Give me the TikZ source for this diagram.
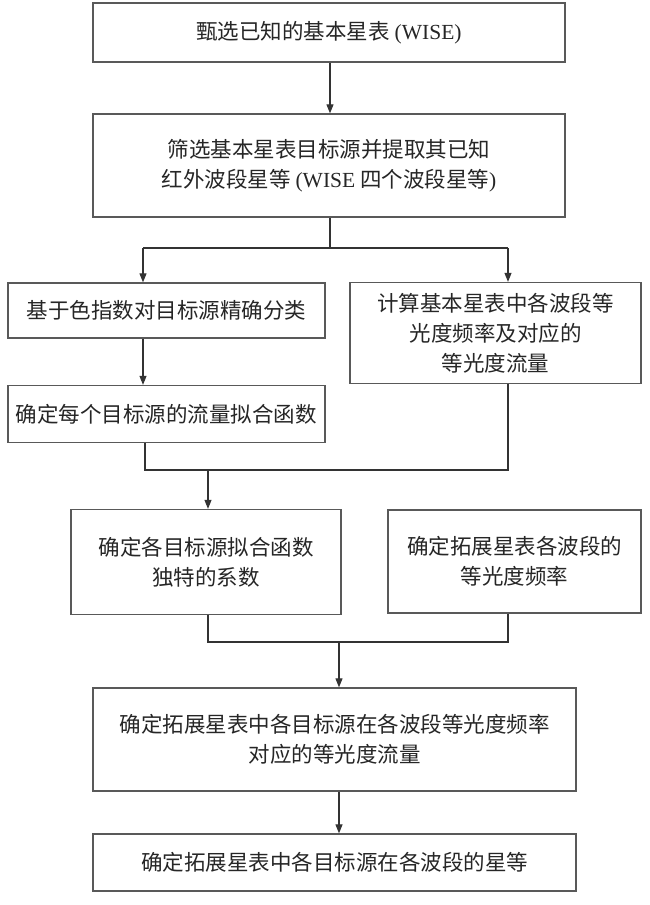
\documentclass[tikz,border=0pt]{standalone}
\usepackage{fontspec}
\setmainfont{Liberation Serif}
\newfontfamily\cjk{Noto Sans CJK SC}
\usetikzlibrary{arrows.meta}
\tikzset{
  box/.style={draw=black!65, line width=1.3pt, fill=white, align=center, inner sep=0pt,
    font=\fontsize{21.5}{30}\selectfont\cjk, text=black!85},
  link/.style={draw=black!80, line width=1.1pt},
  arr/.style={link, -{Triangle[length=9pt,width=7pt]}}
}
\begin{document}
\begin{tikzpicture}[x=1pt,y=-1pt]
\useasboundingbox (0,0) rectangle (650,905);
\node[box, minimum width=472pt, minimum height=59pt] (b1) at (329,32.5) {甄选已知的基本星表 {\rmfamily (WISE)}};
\node[box, minimum width=472pt, minimum height=103pt] (b2) at (329,165.5) {筛选基本星表目标源并提取其已知\\红外波段星等 {\rmfamily (WISE} 四个波段星等{\rmfamily )}};
\node[box, minimum width=317pt, minimum height=55pt] (b3) at (166.5,310.5) {基于色指数对目标源精确分类};
\node[box, minimum width=291pt, minimum height=101pt] (b4) at (495.5,333) {计算基本星表中各波段等\\光度频率及对应的\\等光度流量};
\node[box, minimum width=317pt, minimum height=57pt] (b5) at (166.5,414) {确定每个目标源的流量拟合函数};
\node[box, minimum width=270pt, minimum height=105pt] (b6) at (206,562) {确定各目标源拟合函数\\独特的系数};
\node[box, minimum width=253pt, minimum height=103pt] (b7) at (514.5,561.5) {确定拓展星表各波段的\\等光度频率};
\node[box, minimum width=483pt, minimum height=103pt] (b8) at (334.5,739.5) {确定拓展星表中各目标源在各波段等光度频率\\对应的等光度流量};
\node[box, minimum width=483pt, minimum height=57pt] (b9) at (334.5,862.5) {确定拓展星表中各目标源在各波段的星等};

% junction coordinates
\coordinate (j1) at (330,248);
\coordinate (j1l) at (143,248);
\coordinate (j1r) at (508,248);
\coordinate (j2) at (208,470);
\coordinate (j2l) at (145,470);
\coordinate (j2r) at (508,470);
\coordinate (j3) at (339,642);
\coordinate (j3l) at (208,642);
\coordinate (j3r) at (508,642);

\draw[arr] (b1.south -| j1) -- (b2.north -| j1);
\draw[link] (b2.south -| j1) -- (j1);
\draw[link] (j1l) -- (j1r);
\draw[arr] (j1l) -- (b3.north -| j1l);
\draw[arr] (j1r) -- (b4.north -| j1r);
\draw[arr] (b3.south -| j1l) -- (b5.north -| j1l);
\draw[link] (b5.south -| j2l) -- (j2l) -- (j2r) -- (b4.south -| j2r);
\draw[arr] (j2) -- (b6.north -| j2);
\draw[link] (b6.south -| j3l) -- (j3l) -- (j3r) -- (b7.south -| j3r);
\draw[arr] (j3) -- (b8.north -| j3);
\draw[arr] (b8.south -| j3) -- (b9.north -| j3);
\end{tikzpicture}
\end{document}
